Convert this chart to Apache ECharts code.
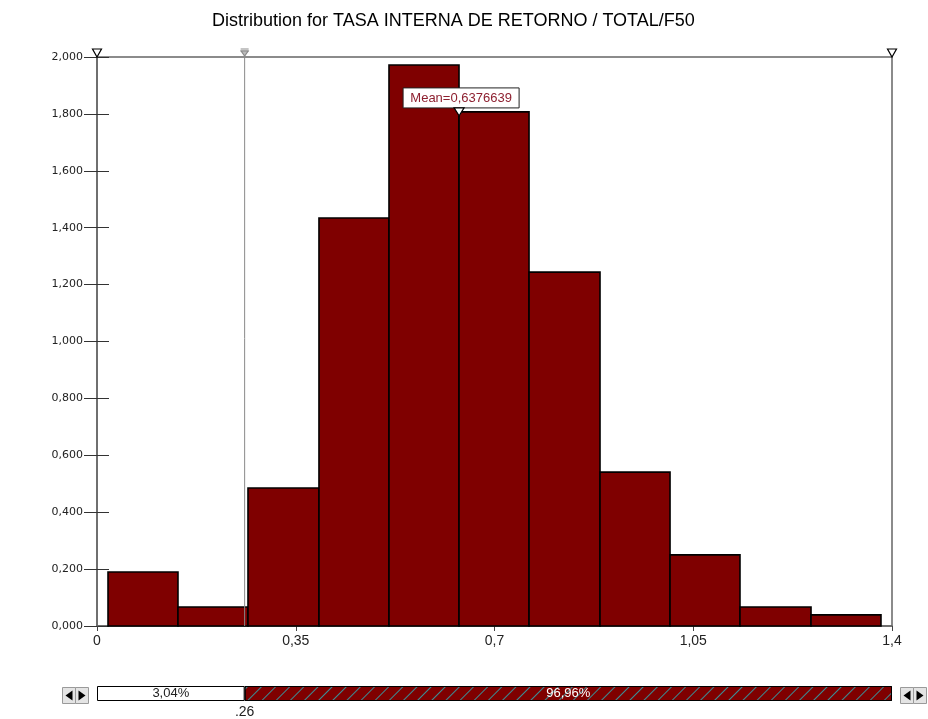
<!DOCTYPE html>
<html>
<head>
<meta charset="utf-8">
<title>Distribution for TASA INTERNA DE RETORNO / TOTAL/F50</title>
<script src="https://cdn.jsdelivr.net/npm/echarts@6/dist/echarts.min.js"></script>
<style>
  html, body { margin: 0; padding: 0; background: #fff; }
  #chart { width: 928px; height: 719px; }
</style>
</head>
<body>
<div id="chart"></div>
<script>
// Histogram bins: left and right edges of each class, and the bar heights (values x 1000)
const binLeft  = [0.0194, 0.1426, 0.2659, 0.3909, 0.5142, 0.6375, 0.7608, 0.8858, 1.0091, 1.1323, 1.2574];
const binRight = [0.1426, 0.2659, 0.3909, 0.5142, 0.6375, 0.7608, 0.8858, 1.0091, 1.1323, 1.2574, 1.3806];
const binHeight = [0.190, 0.067, 0.485, 1.434, 1.972, 1.807, 1.244, 0.541, 0.250, 0.067, 0.039];

// Axis settings and tick labels
const xTicks = [0, 0.35, 0.7, 1.05, 1.4];
const xTickLabels = ['0', '0,35', '0,7', '1,05', '1,4'];
const yMax = 2;
const yStep = 0.2;

// Summary statistics and the delimiter
const meanValue = 0.6376639;
const meanLabel = 'Mean=0,6376639';
const lowerCut = 0.26;
const lowerCutLabel = '.26';
const pctLeft = '3,04%';
const pctRight = '96,96%';

const FONT = '"Liberation Sans", Arial, sans-serif';
const BAR_RED = '#7f0000';

const chart = echarts.init(document.getElementById('chart'), null, { renderer: 'canvas' });

const histData = binLeft.map((l, i) => [l, binRight[i], binHeight[i]]);

// Bar height at the mean, used to place the mean marker on the histogram
const meanBin = binLeft.findIndex((l, i) => meanValue >= l && meanValue < binRight[i]);
const meanBarTop = Math.max(binHeight[meanBin], binHeight[Math.min(meanBin + 1, binHeight.length - 1)]);

function renderBin(params, api) {
  const p0 = api.coord([api.value(0), api.value(2)]);
  const p1 = api.coord([api.value(1), 0]);
  return {
    type: 'rect',
    shape: { x: p0[0], y: p0[1], width: p1[0] - p0[0], height: p1[1] - p0[1] },
    style: { fill: BAR_RED, stroke: '#000', lineWidth: 1.6 }
  };
}

function triangleDown(cx, tipY, w, h, fill, stroke) {
  return {
    type: 'polygon',
    shape: { points: [[cx - w / 2, tipY - h], [cx + w / 2, tipY - h], [cx, tipY]] },
    style: { fill: fill, stroke: stroke, lineWidth: 1.2 }
  };
}

// Range end markers on the top frame
function renderEnds(params, api) {
  const p = api.coord([api.value(0), yMax]);
  return triangleDown(p[0], p[1], 9, 8, '#fff', '#000');
}

// Lower delimiter line with its handle
function renderCut(params, api) {
  const top = api.coord([api.value(0), yMax]);
  const bot = api.coord([api.value(0), 0]);
  return {
    type: 'group',
    children: [
      { type: 'line', shape: { x1: top[0], y1: top[1] - 6, x2: bot[0], y2: bot[1] },
        style: { stroke: '#8a8a8a', lineWidth: 1 } },
      { type: 'line', shape: { x1: top[0] - 4, y1: top[1] - 8, x2: top[0] + 4, y2: top[1] - 8 },
        style: { stroke: '#8a8a8a', lineWidth: 1 } },
      { type: 'line', shape: { x1: top[0] - 4, y1: top[1] - 6, x2: top[0] + 4, y2: top[1] - 6 },
        style: { stroke: '#8a8a8a', lineWidth: 1 } },
      triangleDown(top[0], top[1] - 1, 7, 5, '#bbb', '#8a8a8a')
    ]
  };
}

// Mean marker and its caption box
function renderMean(params, api) {
  const p = api.coord([api.value(0), api.value(1)]);
  const tipY = p[1] + 4;
  const boxW = 116, boxH = 20;
  const boxBottom = tipY - 8;
  return {
    type: 'group',
    children: [
      { type: 'rect', shape: { x: p[0] - boxW / 2 + 2, y: boxBottom - boxH, width: boxW, height: boxH },
        style: { fill: '#fff', stroke: '#222', lineWidth: 1 } },
      { type: 'text', x: p[0] + 2, y: boxBottom - boxH / 2 + 1,
        style: { text: meanLabel, fill: '#8e2030', font: '13px ' + FONT, align: 'center', verticalAlign: 'middle' } },
      triangleDown(p[0], tipY, 10, 8, '#fff', '#000')
    ]
  };
}

const option = {
  animation: false,
  backgroundColor: '#fff',
  title: {
    text: 'Distribution for TASA INTERNA DE RETORNO / TOTAL/F50',
    left: 207,
    top: 7,
    textStyle: { fontFamily: FONT, fontSize: 18, fontWeight: 'normal', color: '#000' }
  },
  grid: [
    { left: 97, right: 36, top: 57, bottom: 93, show: true, borderColor: '#666', borderWidth: 1.5, backgroundColor: 'transparent' },
    { left: 97, right: 36, top: 686, height: 16 }
  ],
  xAxis: [
    {
      type: 'value', gridIndex: 0, min: 0, max: 1.4, interval: 0.35,
      axisLine: { show: true, onZero: false, lineStyle: { color: '#666', width: 1.5 } },
      axisTick: { show: true, length: 5, lineStyle: { color: '#444' } },
      splitLine: { show: false },
      axisLabel: {
        margin: 8, fontFamily: FONT, fontSize: 14, color: '#222',
        formatter: (v) => { const i = xTicks.findIndex(t => Math.abs(t - v) < 1e-9); return i >= 0 ? xTickLabels[i] : ''; }
      }
    },
    {
      type: 'value', gridIndex: 1, min: 0, max: 1.4,
      axisLine: { show: false }, axisTick: { show: false }, splitLine: { show: false },
      axisLabel: {
        show: true, customValues: [lowerCut], margin: 4, fontFamily: FONT, fontSize: 14, color: '#222',
        formatter: () => lowerCutLabel
      }
    }
  ],
  yAxis: [
    {
      type: 'value', gridIndex: 0, min: 0, max: yMax, interval: yStep,
      axisLine: { show: true, lineStyle: { color: '#666', width: 1.5 } },
      axisTick: { show: true, length: 13, lineStyle: { color: '#333' } },
      splitLine: { show: false },
      axisLabel: {
        margin: 14, fontFamily: '"DejaVu Sans", sans-serif', fontSize: 11, color: '#222',
        formatter: (v) => v.toFixed(3).replace('.', ',')
      }
    },
    {
      type: 'value', gridIndex: 0, min: 0, max: yMax, interval: yStep, position: 'left',
      axisLine: { show: false },
      axisTick: { show: true, inside: true, length: 12, lineStyle: { color: '#333' } },
      splitLine: { show: false }, axisLabel: { show: false }
    },
    {
      type: 'category', gridIndex: 1, data: [''],
      axisLine: { show: false }, axisTick: { show: false }, axisLabel: { show: false }
    }
  ],
  series: [
    {
      type: 'custom', name: 'hist', xAxisIndex: 0, yAxisIndex: 0,
      renderItem: renderBin, encode: { x: [0, 1], y: 2 }, data: histData, z: 2
    },
    {
      type: 'custom', name: 'ends', xAxisIndex: 0, yAxisIndex: 0, clip: false,
      renderItem: renderEnds, encode: { x: 0 }, data: [[0], [1.4]], z: 5
    },
    {
      type: 'custom', name: 'cut', xAxisIndex: 0, yAxisIndex: 0, clip: false,
      renderItem: renderCut, encode: { x: 0 }, data: [[lowerCut]], z: 4
    },
    {
      type: 'custom', name: 'mean', xAxisIndex: 0, yAxisIndex: 0, clip: false,
      renderItem: renderMean, encode: { x: 0, y: 1 }, data: [[meanValue, meanBarTop]], z: 6
    },
    {
      type: 'bar', name: 'below', xAxisIndex: 1, yAxisIndex: 2, stack: 'slider', barWidth: '100%',
      data: [lowerCut],
      itemStyle: { color: '#fff', borderColor: '#000', borderWidth: 1 },
      label: { show: true, position: 'inside', formatter: pctLeft, fontFamily: FONT, fontSize: 13, color: '#222' }
    },
    {
      type: 'bar', name: 'above', xAxisIndex: 1, yAxisIndex: 2, stack: 'slider', barWidth: '100%',
      data: [1.4 - lowerCut],
      itemStyle: {
        color: BAR_RED, borderColor: '#000', borderWidth: 1,
        decal: { symbol: 'rect', dashArrayX: [1, 0], dashArrayY: [1, 9], rotation: -Math.PI / 4, color: '#3a8e96', symbolSize: 1 }
      },
      label: { show: true, position: 'inside', formatter: pctRight, fontFamily: FONT, fontSize: 13, color: '#fff' }
    }
  ],
  graphic: [0, 1].map((side) => {
    const x0 = side === 0 ? 62 : 900;
    return {
      type: 'group', left: x0, top: 687,
      children: [
        { type: 'rect', shape: { x: 0, y: 0, width: 13, height: 16 }, style: { fill: '#e4e4e4', stroke: '#9a9a9a' } },
        { type: 'rect', shape: { x: 13, y: 0, width: 13, height: 16 }, style: { fill: '#e4e4e4', stroke: '#9a9a9a' } },
        { type: 'polygon', shape: { points: [[3, 8], [10, 3], [10, 13]] }, style: { fill: '#000' } },
        { type: 'polygon', shape: { points: [[23, 8], [16, 3], [16, 13]] }, style: { fill: '#000' } }
      ]
    };
  })
};

chart.setOption(option);
</script>
</body>
</html>
